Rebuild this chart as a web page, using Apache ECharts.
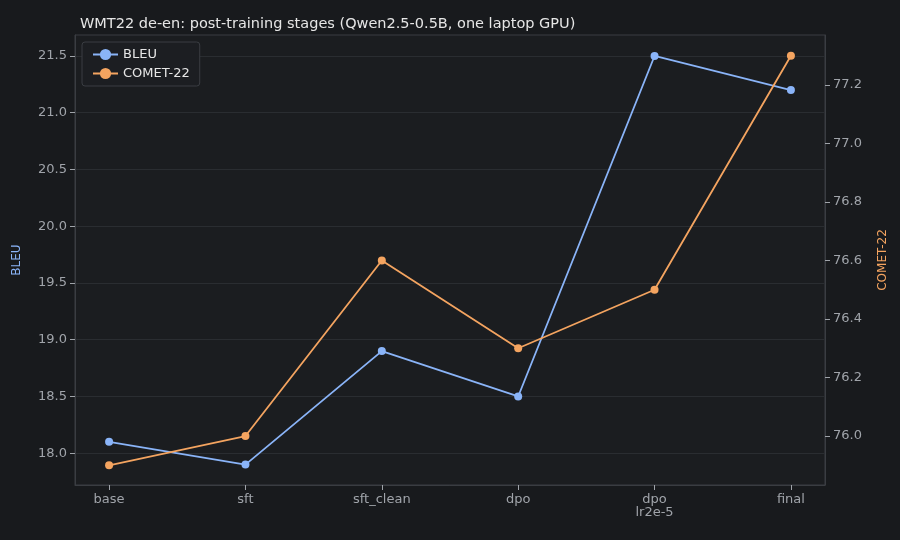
<!DOCTYPE html>
<html>
<head>
<meta charset="utf-8">
<script src="https://cdn.jsdelivr.net/npm/echarts@6/dist/echarts.min.js"></script>
<style>html,body{margin:0;padding:0;background:#181a1d;}</style>
</head>
<body>
<div id="chart" style="width:900px;height:540px;"></div>
<script>
    var stages = ['base', 'sft', 'sft_clean', 'dpo', 'dpo\nlr2e-5', 'final'];
    var bleu = [18.1, 17.9, 18.9, 18.5, 21.5, 21.2];
    var comet = [75.9, 76.0, 76.6, 76.3, 76.5, 77.3];
    var pairs = function (arr) {
        return arr.map(function (v, i) { return [i, v]; });
    };
    var txt = '#a0a4aa';
    var chart = echarts.init(document.getElementById('chart'));
    chart.setOption({
        backgroundColor: '#181a1d',
        textStyle: { fontFamily: 'DejaVu Sans' },
        title: {
            text: 'WMT22 de-en: post-training stages (Qwen2.5-0.5B, one laptop GPU)',
            left: 75, top: 12,
            textStyle: { color: '#e6e6e6', fontSize: 14.5, fontWeight: 'normal' }
        },
        legend: {
            left: 82, top: 42, orient: 'vertical', itemGap: 6,
            backgroundColor: '#1c1e22', borderColor: '#3a3d42', borderWidth: 1, borderRadius: 3,
            padding: [6, 10], textStyle: { color: '#e6e6e6', fontSize: 13 },
            data: ['BLEU', 'COMET-22']
        },
        grid: { left: 75, right: 75, top: 35, bottom: 55, show: true, borderColor: '#3a3d42', backgroundColor: '#1b1d20' },
        xAxis: {
            type: 'value', min: -0.25, max: 5.25,
            splitLine: { show: false },
            axisLine: { lineStyle: { color: '#3a3d42' } },
            axisTick: { show: true, customValues: [0, 1, 2, 3, 4, 5], lineStyle: { color: txt } },
            axisLabel: {
                color: txt, fontSize: 13, customValues: [0, 1, 2, 3, 4, 5],
                formatter: function (v) { return stages[Math.round(v)]; }
            }
        },
        yAxis: [
            {
                type: 'value', name: 'BLEU', nameLocation: 'middle', nameGap: 52,
                nameTextStyle: { color: '#8ab4f8', fontSize: 12 },
                min: 17.72, max: 21.685,
                axisLabel: { color: txt, fontSize: 13, customValues: [18, 18.5, 19, 19.5, 20, 20.5, 21, 21.5], formatter: function (v) { return v.toFixed(1); } },
                axisTick: { show: true, customValues: [18, 18.5, 19, 19.5, 20, 20.5, 21, 21.5], lineStyle: { color: txt } },
                axisLine: { show: true, onZero: false, lineStyle: { color: '#3a3d42' } },
                splitLine: { show: true, lineStyle: { color: '#2a2d31' } }
            },
            {
                type: 'value', name: 'COMET-22', nameLocation: 'middle', nameGap: 52, nameRotate: 90,
                nameTextStyle: { color: '#f4a460', fontSize: 12 },
                min: 75.8325, max: 77.371,
                axisLabel: { color: txt, fontSize: 13, customValues: [76, 76.2, 76.4, 76.6, 76.8, 77, 77.2], formatter: function (v) { return v.toFixed(1); } },
                axisTick: { show: true, customValues: [76, 76.2, 76.4, 76.6, 76.8, 77, 77.2], lineStyle: { color: txt } },
                axisLine: { show: true, onZero: false, lineStyle: { color: '#3a3d42' } },
                splitLine: { show: false }
            }
        ],
        series: [
            {
                name: 'BLEU', type: 'line', yAxisIndex: 0, data: pairs(bleu),
                symbol: 'circle', symbolSize: 8,
                lineStyle: { color: '#8ab4f8', width: 1.8 }, itemStyle: { color: '#8ab4f8' }
            },
            {
                name: 'COMET-22', type: 'line', yAxisIndex: 1, data: pairs(comet),
                symbol: 'circle', symbolSize: 8,
                lineStyle: { color: '#f4a460', width: 1.8 }, itemStyle: { color: '#f4a460' }
            }
        ]
    });
</script>
</body>
</html>
